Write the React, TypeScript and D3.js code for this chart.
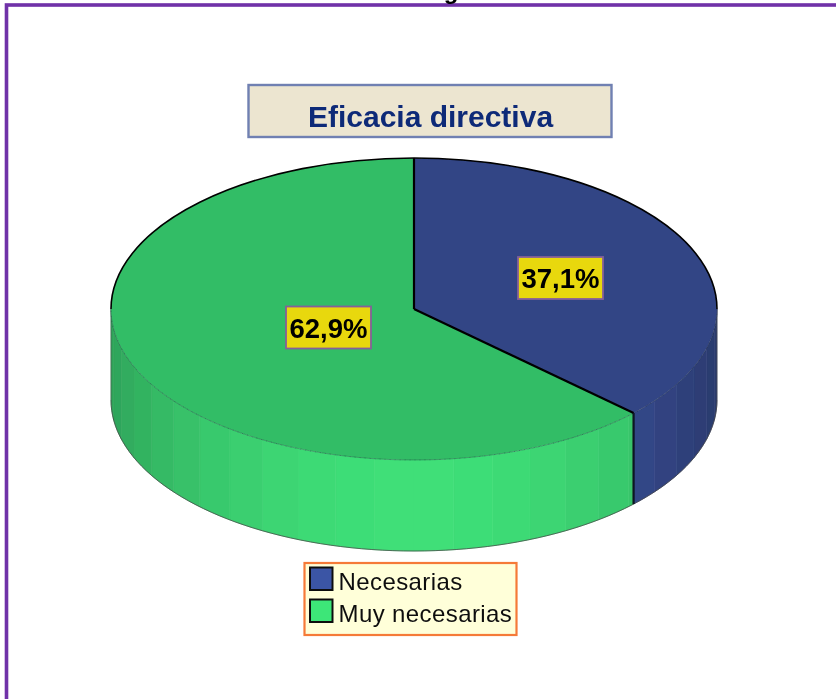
import React, { useEffect, useRef } from 'react';
import * as d3 from 'd3';

// Data
const categories = ['Necesarias', 'Muy necesarias'];
const values = [37.1, 62.9];
const valueLabels = ['37,1%', '62,9%'];
const title = 'Eficacia directiva';

const topColors = ['#324585', '#33bd66'];
const legendColors = ['#3b55a5', '#3ee678'];
// side wall: darkest (at the edge) and brightest (facing the viewer)
const sideDark = ['#2a3a6c', '#2ea259'];
const sideLight = ['#3a52a0', '#3fdf78'];

const W = 836;
const H = 699;

const App = () => {
  const ref = useRef(null);

  useEffect(() => {
    const cx = 414;
    const cy = 309;
    const rx = 303;
    const ry = 151;
    const depth = 91;
    const facetStep = 7.5; // degrees per shaded band of the wall

    d3.select(ref.current).selectAll('*').remove();

    const root = d3.select(ref.current)
      .append('svg')
      .attr('width', W)
      .attr('height', H)
      .style('position', 'absolute')
      .style('left', 0)
      .style('top', 0)
      .style('display', 'block')
      .style('background', '#fff');

    // the reference is a soft, upscaled picture
    root.append('defs')
      .append('filter')
      .attr('id', 'soft')
      .attr('filterUnits', 'userSpaceOnUse')
      .attr('x', 0).attr('y', 0)
      .attr('width', W).attr('height', H)
      .append('feGaussianBlur')
      .attr('stdDeviation', 0.45);

    const svg = root.append('g').attr('filter', 'url(#soft)');
    svg.append('rect').attr('width', W).attr('height', H).attr('fill', '#fff');

    // Outer frame, right side runs off the page
    svg.append('rect')
      .attr('x', 6.5)
      .attr('y', 5)
      .attr('width', W + 20)
      .attr('height', H + 20)
      .attr('fill', 'none')
      .attr('stroke', '#7030a8')
      .attr('stroke-width', 3.6);

    // Cut-off caption above the frame
    svg.append('text')
      .attr('x', 451)
      .attr('y', -1)
      .attr('text-anchor', 'middle')
      .attr('font-family', 'Liberation Sans')
      .attr('font-weight', 'bold')
      .attr('font-size', 24)
      .attr('fill', '#000')
      .text('g');

    const pie = d3.pie<number>().sort(null);
    const slices = pie(values);

    const toXY = (a: number, dy = 0): [number, number] => [
      cx + rx * Math.sin(a),
      cy - ry * Math.cos(a) + dy,
    ];

    // Side wall, only the part facing the viewer
    const line = d3.line();
    const wall = svg.append('g');
    slices.forEach((s, i) => {
      const start = Math.max(s.startAngle, Math.PI / 2);
      const end = Math.min(s.endAngle, (3 * Math.PI) / 2);
      const shade = d3.scaleLinear<string>()
        .domain([0, 1])
        .range([sideDark[i], sideLight[i]])
        .interpolate(d3.interpolateRgb);
      const step = (facetStep * Math.PI) / 180;
      const firstBand = Math.floor(start / step);
      const lastBand = Math.ceil(end / step);
      d3.range(firstBand, lastBand).forEach(b => {
        const a0 = Math.max(b * step, start);
        const a1 = Math.min((b + 1) * step, end);
        const pts = d3.range(0, 9).map(k => a0 + ((a1 - a0) * k) / 8);
        const top = pts.map(a => toXY(a));
        const bottom = pts.slice().reverse().map(a => toXY(a, depth));
        const mid = (a0 + a1) / 2;
        const facing = Math.pow(Math.max(0, Math.cos(mid - Math.PI)), 1.6);
        wall.append('path')
          .attr('d', line([...top, ...bottom]) + 'Z')
          .attr('fill', shade(facing))
          .attr('stroke', shade(facing))
          .attr('stroke-width', 0.6);
      });
    });

    // Silhouette of the wall
    const silhouette = d3.range(90, 271, 2).map(d => toXY((d * Math.PI) / 180, depth));
    svg.append('path')
      .attr('d', line(silhouette))
      .attr('fill', 'none')
      .attr('stroke', '#444')
      .attr('stroke-opacity', 0.75)
      .attr('stroke-width', 1);
    svg.selectAll('.wall-edge')
      .data([Math.PI / 2, (3 * Math.PI) / 2])
      .enter()
      .append('path')
      .attr('d', a => line([toXY(a), toXY(a, depth)]))
      .attr('stroke', '#555')
      .attr('stroke-opacity', 0.6)
      .attr('stroke-width', 1);

    // Top face: d3.arc on a circle, squashed into the ellipse
    const face = svg.append('g')
      .attr('transform', `translate(${cx},${cy}) scale(1,${ry / rx})`);
    const arc = d3.arc<d3.PieArcDatum<number>>().innerRadius(0).outerRadius(rx);
    face.selectAll('.slice')
      .data(slices)
      .enter()
      .append('path')
      .attr('class', 'slice')
      .attr('d', arc)
      .attr('fill', (_, i) => topColors[i]);

    const rim = d3.arc<any>().innerRadius(rx).outerRadius(rx);
    // back rim in black, front rim barely there
    face.append('path')
      .attr('d', rim({ startAngle: -Math.PI / 2, endAngle: Math.PI / 2 }))
      .attr('fill', 'none')
      .attr('stroke', '#000')
      .attr('stroke-width', 1.6)
      .attr('vector-effect', 'non-scaling-stroke');
    face.append('path')
      .attr('d', rim({ startAngle: Math.PI / 2, endAngle: (3 * Math.PI) / 2 }))
      .attr('fill', 'none')
      .attr('stroke', '#123')
      .attr('stroke-opacity', 0.35)
      .attr('stroke-width', 0.8)
      .attr('stroke-dasharray', '3 2')
      .attr('vector-effect', 'non-scaling-stroke');

    // Slice boundaries
    slices.forEach(s => {
      svg.append('path')
        .attr('d', line([[cx, cy], toXY(s.startAngle)]))
        .attr('stroke', '#000')
        .attr('stroke-width', 2.2);
    });
    const cut = slices[1].startAngle;
    svg.append('path')
      .attr('d', line([toXY(cut), toXY(cut, depth)]))
      .attr('stroke', '#0c1420')
      .attr('stroke-width', 2.2);

    // Value labels
    const labelCenters = [[560.5, 278], [328.5, 327.5]];
    valueLabels.forEach((t, i) => {
      const g = svg.append('g')
        .attr('transform', `translate(${labelCenters[i][0]},${labelCenters[i][1]})`);
      g.append('rect')
        .attr('x', -42.5)
        .attr('y', -21)
        .attr('width', 85)
        .attr('height', 42)
        .attr('fill', '#e8d80c')
        .attr('stroke', '#85609a')
        .attr('stroke-width', 1.8);
      g.append('text')
        .attr('text-anchor', 'middle')
        .attr('y', 10)
        .attr('font-family', 'Liberation Sans')
        .attr('font-weight', 'bold')
        .attr('font-size', 27.5)
        .attr('fill', '#000')
        .text(t);
    });

    // Title box
    svg.append('rect')
      .attr('x', 248.5)
      .attr('y', 85)
      .attr('width', 363)
      .attr('height', 52)
      .attr('fill', '#ece5d0')
      .attr('stroke', '#6f80b2')
      .attr('stroke-width', 2.4);
    svg.append('text')
      .attr('x', 430.5)
      .attr('y', 127)
      .attr('text-anchor', 'middle')
      .attr('font-family', 'Liberation Sans')
      .attr('font-weight', 'bold')
      .attr('font-size', 30)
      .attr('fill', '#0f2a78')
      .text(title);

    // Legend
    svg.append('rect')
      .attr('x', 304.5)
      .attr('y', 563)
      .attr('width', 212)
      .attr('height', 72)
      .attr('fill', '#ffffd9')
      .attr('stroke', '#f57a38')
      .attr('stroke-width', 2.2);
    const legendY = d3.scalePoint<string>()
      .domain(categories)
      .range([579, 611]);
    categories.forEach((c, i) => {
      svg.append('rect')
        .attr('x', 310)
        .attr('y', legendY(c)! - 11.5)
        .attr('width', 22.5)
        .attr('height', 22.5)
        .attr('fill', legendColors[i])
        .attr('stroke', '#111')
        .attr('stroke-width', 2);
      svg.append('text')
        .attr('x', 338.5)
        .attr('y', legendY(c)! + 11)
        .attr('font-family', 'Liberation Sans')
        .attr('font-size', 24)
        .attr('letter-spacing', 0.4)
        .attr('fill', '#111')
        .text(c);
    });
  }, []);

  return <div ref={ref}></div>;
};

export default App;
